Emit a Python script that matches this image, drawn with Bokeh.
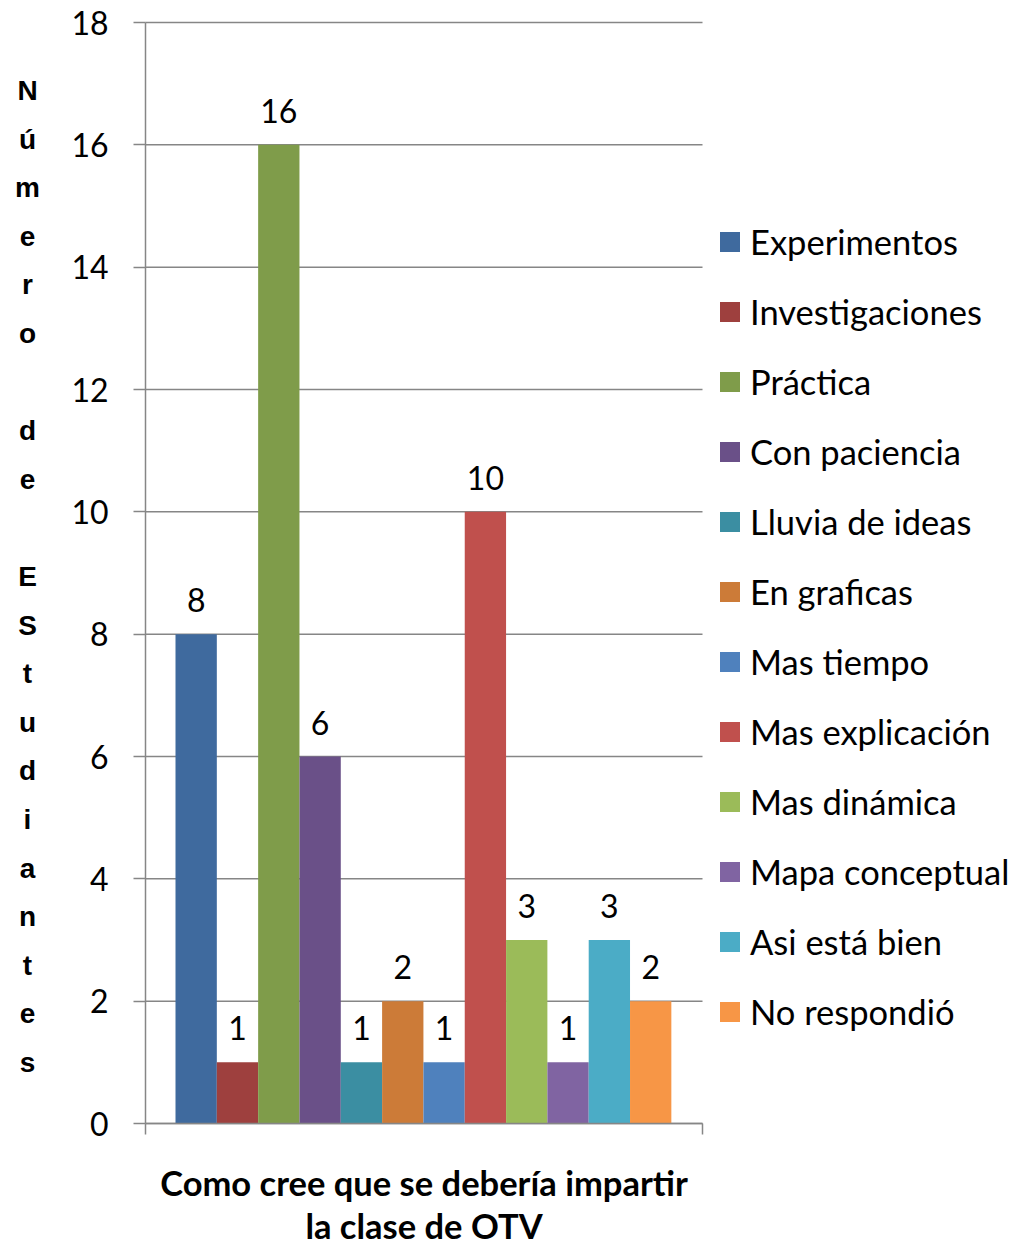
import numpy as np
from bokeh.plotting import figure
from bokeh.models import ColumnDataSource, FixedTicker, Legend, LegendItem, Range1d, LabelSet
from bokeh.core.properties import value
from bokeh.embed import file_html
from bokeh.resources import INLINE

categories = ["Experimentos", "Investigaciones", "Práctica", "Con paciencia",
              "Lluvia de ideas", "En graficas", "Mas tiempo", "Mas explicación",
              "Mas dinámica", "Mapa conceptual", "Asi está bien", "No respondió"]
counts = [8, 1, 16, 6, 1, 2, 1, 10, 3, 1, 3, 2]
colors = ["#3F6A9E", "#9E403E", "#7F9C4A", "#6A5088", "#3B8EA2", "#CC7B38",
          "#4F81BD", "#C0504D", "#9BBB59", "#8064A2", "#4BACC6", "#F79646"]
y_ticks = [0, 2, 4, 6, 8, 10, 12, 14, 16, 18]
y_title = "Número de EStudiantes"
x_title_lines = ["Como cree que se debería impartir", "la clase de OTV"]

FONT = "Lato"
GRAY = "#868686"
W, H = 1017, 1245

# ---- layout (pixels) ----
AX_LEFT, AX_RIGHT, AX_TOP, AX_BOTTOM = 145, 702, 22, 1123
BAR_START = 175          # left edge of first bar
PX_X = (AX_RIGHT - AX_LEFT) / 13.48   # pixels per bar
PX_Y = (AX_BOTTOM - AX_TOP) / 18.0    # pixels per unit

def dx(px):
    return -0.5 + (px - BAR_START) / PX_X

def dy(py):
    return (AX_BOTTOM - py) / PX_Y

x_lo, x_hi = dx(0), dx(W)
y_lo, y_hi = dy(H), dy(0)
x0, x1 = dx(AX_LEFT), dx(AX_RIGHT)

xs = np.arange(len(categories))
src = ColumnDataSource(dict(x=xs, top=counts, color=colors, cat=categories,
                            label=[str(c) for c in counts]))

p = figure(width=W, height=H, output_backend="svg", toolbar_location=None,
           x_range=Range1d(x_lo, x_hi), y_range=Range1d(y_lo, y_hi),
           min_border_left=0, min_border_right=0, min_border_top=0,
           min_border_bottom=0)
p.outline_line_color = None
p.background_fill_color = "white"
p.xgrid.grid_line_color = None
p.ygrid.grid_line_color = None

# horizontal gridlines over the plot area only
grid_src = ColumnDataSource(dict(y=y_ticks, xs0=[x0] * len(y_ticks), xs1=[x1] * len(y_ticks)))
p.segment(x0="xs0", x1="xs1", y0="y", y1="y", source=grid_src,
          line_color=GRAY, line_width=1.5, level="underlay")

r = p.vbar(x="x", top="top", width=1.0, bottom=0, color="color", line_color=None, source=src)

labels = LabelSet(x="x", y="top", text="label", source=src, text_align="center",
                  text_baseline="alphabetic", y_offset=22, text_font=value(FONT),
                  text_font_size=value("32px"), text_color=value("black"))
p.add_layout(labels)

# y axis (fixed inside the canvas)
ya = p.yaxis[0]
ya.fixed_location = x0
ya.bounds = (0, 18)
ya.ticker = FixedTicker(ticks=y_ticks)
ya.axis_line_color = GRAY
ya.axis_line_width = 1.5
ya.major_tick_line_color = GRAY
ya.major_tick_line_width = 1.5
ya.major_tick_out = 12
ya.major_tick_in = 0
ya.minor_tick_line_color = None
ya.major_label_text_font = FONT
ya.major_label_text_font_size = "32px"
ya.major_label_text_color = "black"
ya.major_label_standoff = 25

# x axis
xa = p.xaxis[0]
xa.fixed_location = 0
xa.bounds = (x0, x1)
xa.ticker = FixedTicker(ticks=[x0, x1])
xa.axis_line_color = GRAY
xa.axis_line_width = 1.5
xa.major_tick_line_color = GRAY
xa.major_tick_line_width = 1.5
xa.major_tick_out = 11
xa.major_tick_in = 0
xa.minor_tick_line_color = None
xa.major_label_text_font_size = "0px"
xa.major_label_standoff = 0

# y title: stacked letters
letters = list(y_title)
ysrc = ColumnDataSource(dict(
    x=[dx(27)] * len(letters),
    y=[dy(90 + 48.6 * i) for i in range(len(letters))],
    t=letters))
p.text(x="x", y="y", text="t", source=ysrc, text_align="center", text_baseline="middle",
       text_font=value("Liberation Sans"), text_font_style="bold",
       text_font_size="28px", text_color="black")

# x title
xsrc = ColumnDataSource(dict(
    x=[dx((AX_LEFT + AX_RIGHT) / 2)] * len(x_title_lines),
    y=[dy(1182 + 43 * i) for i in range(len(x_title_lines))],
    t=x_title_lines))
p.text(x="x", y="y", text="t", source=xsrc, text_align="center", text_baseline="middle",
       text_font=value(FONT), text_font_style="bold", text_font_size="34.5px",
       text_color="black")

items = [LegendItem(label=c, renderers=[r], index=i) for i, c in enumerate(categories)]
legend = Legend(items=items, location=(717, 213), orientation="vertical",
                glyph_width=25, glyph_height=25, label_height=42,
                label_standoff=8, spacing=28, padding=0, margin=0,
                border_line_alpha=0, background_fill_alpha=0,
                label_text_font=FONT, label_text_font_size="34.5px",
                label_text_color="black")
p.add_layout(legend, "center")

open("out.html", "w").write(file_html(p, INLINE))
